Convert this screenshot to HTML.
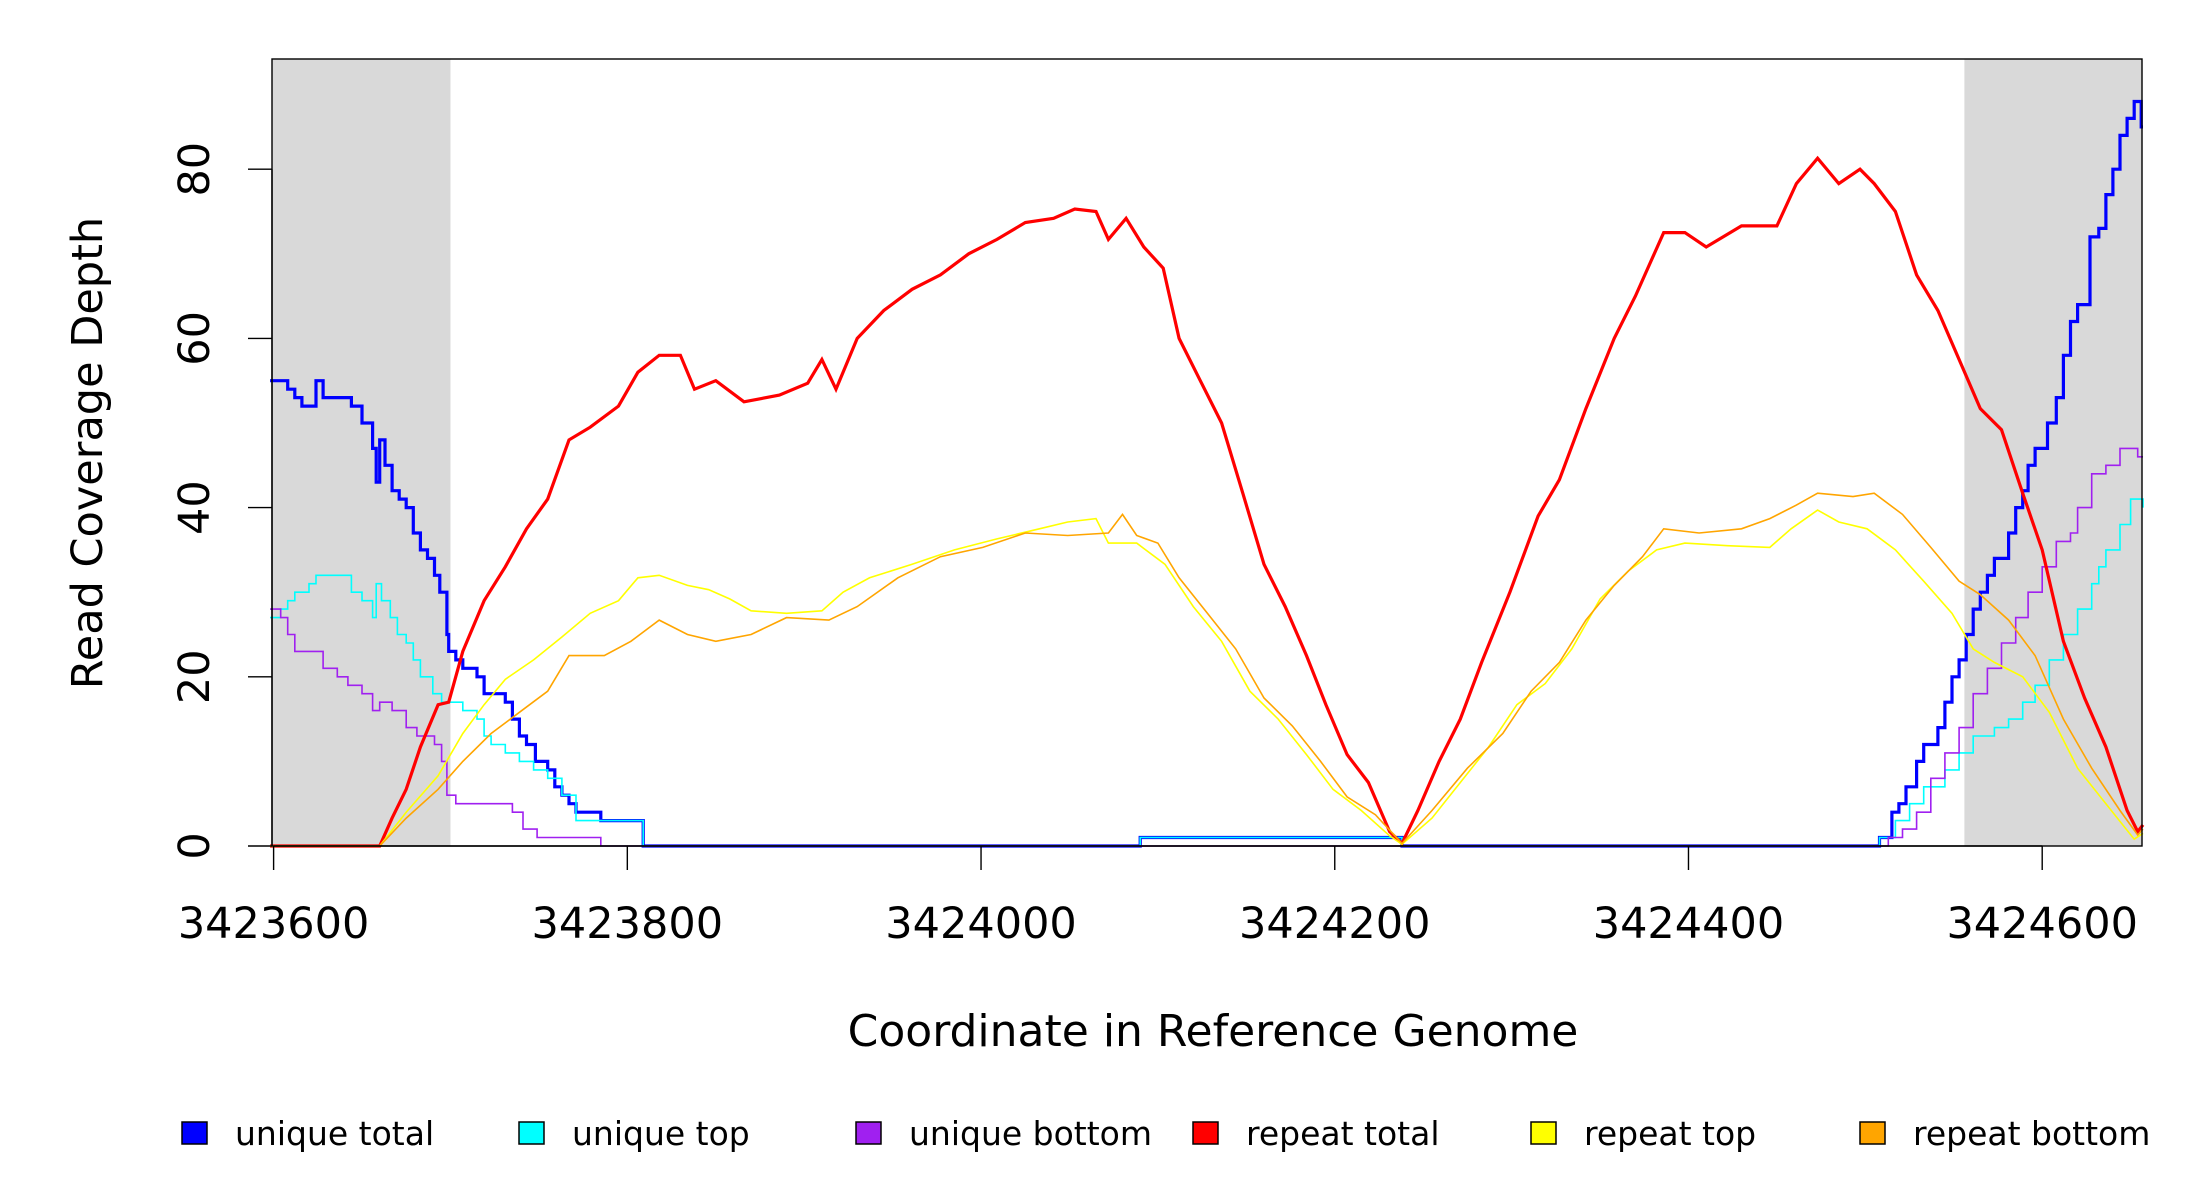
<!DOCTYPE html>
<html><head><meta charset="utf-8"><style>
html,body{margin:0;padding:0;background:#fff;}
svg{display:block;font-family:"DejaVu Sans","Liberation Sans",sans-serif;}
</style></head><body>
<svg id="chart" width="2200" height="1200" viewBox="0 0 2200 1200" xmlns="http://www.w3.org/2000/svg">
<g id="bg"></g><g id="series"></g><g id="axes"></g><g id="legend"></g>
</svg>
<script>
const xTicks = [3423600, 3423800, 3424000, 3424200, 3424400, 3424600];
const yTicks = [0, 20, 40, 60, 80];
const shadedRegions = [[3423598, 3423700], [3424556, 3424660]];
const seriesNames = ["unique total","unique top","unique bottom","repeat total","repeat top","repeat bottom"];
const seriesColors = ["#0000ff","#00ffff","#a020f0","#ff0000","#ffff00","#ffa500"];

const uniqueTotalPos = [3423598,3423608,3423612,3423616,3423624,3423628,3423640,3423644,3423650,3423656,3423658,3423660,3423663,3423667,3423671,3423675,3423679,3423683,3423687,3423691,3423694,3423698,3423699,3423703,3423707,3423715,3423719,3423731,3423735,3423739,3423743,3423748,3423755,3423759,3423763,3423767,3423771,3423785,3423809,3424090,3424238,3424508,3424515,3424519,3424523,3424529,3424533,3424541,3424545,3424549,3424553,3424557,3424561,3424565,3424569,3424573,3424581,3424585,3424589,3424592,3424596,3424603,3424608,3424612,3424616,3424620,3424627,3424632,3424636,3424640,3424644,3424648,3424652,3424656,3424657];
const uniqueTotalVal = [55,54,53,52,55,53,53,52,50,47,43,48,45,42,41,40,37,35,34,32,30,25,23,22,21,20,18,17,15,13,12,10,9,7,6,5,4,3,0,1,0,1,4,5,7,10,12,14,17,20,22,25,28,30,32,34,37,40,42,45,47,50,53,58,62,64,72,73,77,80,84,86,88,85,85];

const uniqueTopPos = [3423598,3423604,3423608,3423612,3423620,3423624,3423644,3423650,3423656,3423658,3423661,3423666,3423670,3423675,3423679,3423683,3423690,3423695,3423707,3423715,3423719,3423723,3423731,3423739,3423747,3423755,3423763,3423771,3423809,3424090,3424238,3424508,3424517,3424525,3424533,3424545,3424553,3424561,3424573,3424581,3424589,3424596,3424604,3424612,3424620,3424628,3424632,3424636,3424644,3424650,3424657];
const uniqueTopVal = [27,28,29,30,31,32,30,29,27,31,29,27,25,24,22,20,18,17,16,15,13,12,11,10,9,8,6,3,0,1,0,1,3,5,7,9,11,13,14,15,17,19,22,25,28,31,33,35,38,41,40];

const uniqueBottomPos = [3423598,3423604,3423608,3423612,3423628,3423636,3423642,3423650,3423656,3423660,3423667,3423675,3423681,3423691,3423695,3423698,3423703,3423735,3423741,3423749,3423785,3424513,3424521,3424529,3424537,3424545,3424553,3424561,3424569,3424577,3424585,3424592,3424600,3424608,3424616,3424620,3424628,3424636,3424644,3424654,3424657];
const uniqueBottomVal = [28,27,25,23,21,20,19,18,16,17,16,14,13,12,10,6,5,4,2,1,0,1,2,4,8,11,14,18,21,24,27,30,33,36,37,40,44,45,47,46,46];

const repeatTotalPos = [3423598,3423660,3423667,3423675,3423683,3423693,3423699,3423707,3423719,3423731,3423743,3423755,3423767,3423779,3423795,3423806,3423818,3423830,3423838,3423850,3423866,3423886,3423902,3423910,3423918,3423930,3423945,3423961,3423977,3423993,3424009,3424025,3424041,3424053,3424065,3424072,3424082,3424092,3424103,3424112,3424124,3424136,3424148,3424160,3424172,3424184,3424195,3424207,3424219,3424231,3424238,3424247,3424259,3424271,3424283,3424299,3424315,3424327,3424342,3424358,3424370,3424386,3424398,3424410,3424430,3424450,3424461,3424473,3424485,3424497,3424505,3424517,3424529,3424541,3424553,3424565,3424577,3424589,3424600,3424612,3424624,3424636,3424648,3424654,3424657];
const repeatTotalVal = [0,0,3.3,6.7,11.7,16.7,17,23,29,33,37.5,41,48,49.5,52,56,58,58,54,55,52.5,53.3,54.7,57.5,54,60,63.3,65.8,67.5,70,71.7,73.7,74.2,75.3,75,71.7,74.2,70.8,68.3,60,55,50,41.7,33.3,28.3,22.5,16.7,10.8,7.5,1.7,0.3,4.2,10,15,21.7,30,39,43.3,51.7,60,65,72.5,72.5,70.8,73.3,73.3,78.3,81.3,78.3,80,78.3,75,67.5,63.3,57.5,51.7,49.2,41.7,35,24.2,17.5,11.7,4.2,1.7,2.5];

const repeatTopPos = [3423598,3423660,3423675,3423693,3423707,3423719,3423731,3423747,3423763,3423779,3423795,3423806,3423818,3423834,3423846,3423858,3423870,3423890,3423910,3423922,3423937,3423961,3423985,3424009,3424033,3424049,3424065,3424072,3424088,3424104,3424120,3424136,3424152,3424168,3424184,3424199,3424215,3424231,3424238,3424255,3424271,3424287,3424303,3424319,3424334,3424350,3424366,3424382,3424398,3424422,3424446,3424458,3424473,3424485,3424501,3424517,3424533,3424549,3424561,3424573,3424589,3424604,3424620,3424636,3424652,3424657];
const repeatTopVal = [0,0,4,8.3,13.3,16.7,19.7,22,24.7,27.5,29,31.7,32,30.8,30.3,29.2,27.8,27.5,27.8,30,31.7,33.3,35,36.3,37.5,38.3,38.7,35.8,35.8,33.3,28.3,24.2,18.3,15,10.8,6.7,4.2,1.2,0.2,3.3,7.5,11.7,16.7,19.2,23.3,29.2,32.5,35,35.8,35.5,35.3,37.5,39.7,38.3,37.5,35,31.3,27.5,23.3,21.7,20,15.8,9.2,5,0.8,1.5];

const repeatBottomPos = [3423598,3423660,3423675,3423693,3423707,3423723,3423739,3423755,3423767,3423787,3423802,3423818,3423834,3423850,3423870,3423890,3423914,3423930,3423953,3423977,3424001,3424025,3424049,3424072,3424080,3424088,3424100,3424112,3424128,3424144,3424160,3424176,3424192,3424207,3424223,3424238,3424255,3424275,3424295,3424311,3424327,3424342,3424358,3424374,3424386,3424406,3424430,3424446,3424461,3424473,3424493,3424505,3424521,3424537,3424553,3424565,3424581,3424596,3424612,3424628,3424644,3424654,3424657];
const repeatBottomVal = [0,0,3.3,6.7,10,13.3,15.8,18.3,22.5,22.5,24.2,26.7,25,24.2,25,27,26.7,28.3,31.7,34.2,35.3,37,36.7,37,39.2,36.7,35.8,31.7,27.5,23.3,17.5,14.2,10,5.8,3.7,0.3,4.2,9.2,13.3,18.3,21.7,26.7,30.8,34.2,37.5,37,37.5,38.7,40.3,41.7,41.3,41.7,39.2,35.3,31.3,29.7,26.7,22.5,15,9.2,4.2,1.3,2];

const NS = "http://www.w3.org/2000/svg";
const PL = 272, PR = 2142, PT = 59, PB = 846;
function xs(c){ return 273.6 + (c - 3423600) * 1.7686; }
function ys(v){ return 846 - v * 8.46; }
function mk(tag, attrs, parent){ const e = document.createElementNS(NS, tag); for (const k in attrs) e.setAttribute(k, attrs[k]); parent.appendChild(e); return e; }
const bg = document.getElementById('bg'), ser = document.getElementById('series'), ax = document.getElementById('axes'), lg = document.getElementById('legend');

shadedRegions.forEach(function(r, i){
  const x0 = Math.max(PL, xs(r[0])), x1 = Math.min(PR, xs(r[1]));
  const rect = mk('rect', {x:x0, y:PT, width:x1-x0, height:PB-PT, fill:'#d9d9d9'}, bg);
  
  
});

const allPos = [uniqueTotalPos, uniqueTopPos, uniqueBottomPos, repeatTotalPos, repeatTopPos, repeatBottomPos];
const allVal = [uniqueTotalVal, uniqueTopVal, uniqueBottomVal, repeatTotalVal, repeatTopVal, repeatBottomVal];
const widths = [3.2, 1.6, 1.6, 3.2, 1.6, 1.6];
const stepped = [true, true, true, false, false, false];
for (let s = 0; s < 6; s++){
  const P = allPos[s], V = allVal[s];
  let d = 'M' + xs(P[0]).toFixed(1) + ' ' + ys(V[0]).toFixed(1);
  for (let i = 1; i < P.length; i++){
    const x = xs(P[i]).toFixed(1), y = ys(V[i]).toFixed(1);
    if (stepped[s]) d += ' H' + x + ' V' + y;
    else d += ' L' + x + ' ' + y;
  }
  const p = mk('path', {d:d, fill:'none', stroke:seriesColors[s], 'stroke-width':widths[s], 'stroke-linejoin':'miter'}, ser);
  
  
}

const box = mk('rect', {x:PL, y:PT, width:PR-PL, height:PB-PT, fill:'none', stroke:'#000', 'stroke-width':1.4}, ax);



const yAxis = mk('line', {x1:PL, x2:PL, y1:ys(yTicks[0]), y2:ys(yTicks[yTicks.length-1]), stroke:'#000', 'stroke-width':1.4}, ax);


yTicks.forEach(function(t){
  const ln = mk('line', {x1:248, x2:PL, y1:ys(t), y2:ys(t), stroke:'#000', 'stroke-width':1.4}, ax);
  
  
  const tx = mk('text', {x:0, y:0, 'font-size':43, 'text-anchor':'middle', transform:'translate(209,' + ys(t) + ') rotate(-90)'}, ax);
  tx.textContent = String(t);
  
  
});
const xAxis = mk('line', {x1:xs(xTicks[0]), x2:xs(xTicks[xTicks.length-1]), y1:PB, y2:PB, stroke:'#000', 'stroke-width':1.4}, ax);


xTicks.forEach(function(t){
  const ln = mk('line', {x1:xs(t), x2:xs(t), y1:PB, y2:870, stroke:'#000', 'stroke-width':1.4}, ax);
  
  
  const tx = mk('text', {x:xs(t), y:938, 'font-size':43, 'text-anchor':'middle'}, ax);
  tx.textContent = String(t);
  
  
});
const xt = mk('text', {x:1213, y:1046, 'font-size':44, 'text-anchor':'middle'}, ax);
xt.textContent = 'Coordinate in Reference Genome';


const yt = mk('text', {x:0, y:0, 'font-size':43, 'text-anchor':'middle', transform:'translate(102,453) rotate(-90)'}, ax);
yt.textContent = 'Read Coverage Depth';



const legendX = [182, 519, 856, 1193, 1531, 1860];
for (let s = 0; s < 6; s++){
  const g = mk('g', {}, lg);
  
  
  mk('rect', {x:legendX[s], y:1122, width:25, height:22, fill:seriesColors[s], stroke:'#000', 'stroke-width':1.5}, g);
  const tx = mk('text', {x:legendX[s] + 53, y:1145, 'font-size':33}, g);
  tx.textContent = seriesNames[s];
}
</script>
</body></html>
